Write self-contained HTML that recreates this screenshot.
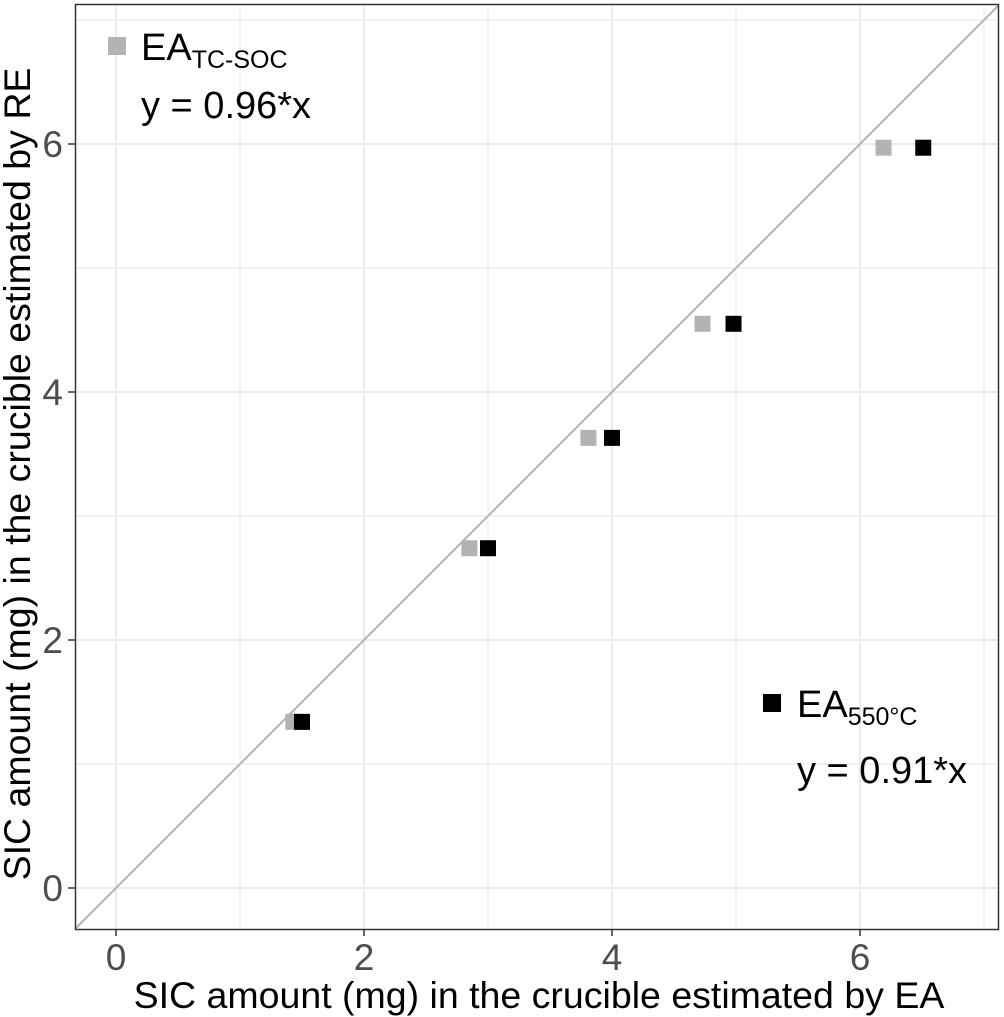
<!DOCTYPE html>
<html><head><meta charset="utf-8"><style>
body{margin:0;background:#fff;}
svg{display:block;font-family:"Liberation Sans",sans-serif;}
</style></head><body>
<svg width="1004" height="1017" viewBox="0 0 1004 1017">
<g id="grid"></g>
<line id="ref" stroke="#b3b3b3" stroke-width="2"/>
<g id="pts"></g>
<rect x="75.5" y="4.5" width="923" height="925" fill="none" stroke="#333" stroke-width="1.5"/>
<g id="ticks"></g>
<text x="539" y="1008" font-size="37.5" text-anchor="middle" fill="#000">SIC amount (mg) in the crucible estimated by EA</text>
<text transform="translate(30,474) rotate(-90)" font-size="37.5" text-anchor="middle" fill="#000">SIC amount (mg) in the crucible estimated by RE</text>
<rect x="108" y="37" width="18" height="18" fill="#b3b3b3"/>
<text x="141" y="60" font-size="38">EA<tspan font-size="25" dy="8">TC-SOC</tspan></text>
<text x="141" y="118" font-size="38">y = 0.96*x</text>
<rect x="763" y="694" width="18" height="18" fill="#000"/>
<text x="797" y="717" font-size="38">EA<tspan font-size="25" dy="8">550°C</tspan></text>
<text x="797" y="783" font-size="38">y = 0.91*x</text>
<script>
const yValues=[1.34,2.74,3.63,4.55,5.97];
const xTcSoc=[1.43,2.85,3.81,4.73,6.19];
const x550=[1.50,3.0,4.0,4.98,6.51];
const xTicks=[0,2,4,6];
const yTicks=[0,2,4,6];
const X=v=>116+v*124, Y=v=>888-v*124;
const NS="http://www.w3.org/2000/svg";
function mk(t,a,p){const e=document.createElementNS(NS,t);for(const k in a)e.setAttribute(k,a[k]);p.appendChild(e);return e;}
const g=document.getElementById('grid');
mk('rect',{x:75,y:4,width:923,height:925,fill:'#fff'},g);
for(let v=0;v<=7;v++){
 const major=v%2===0;
 const l1=mk('line',{x1:X(v),x2:X(v),y1:4,y2:929,stroke:'#ebebeb','stroke-width':major?2:1.2},g);
 
 
 const l2=mk('line',{y1:Y(v),y2:Y(v),x1:75,x2:998,stroke:'#ebebeb','stroke-width':major?2:1.2},g);
 
 
}
const r=document.getElementById('ref');
const lo=(75-116)/124, hi=(998-116)/124;
r.setAttribute('x1',X(lo));r.setAttribute('y1',Y(lo));r.setAttribute('x2',X(hi));r.setAttribute('y2',Y(hi));
const p=document.getElementById('pts');
yValues.forEach((y,i)=>{
 const a=mk('rect',{x:X(xTcSoc[i])-8,y:Y(y)-8,width:16,height:16,fill:'#b3b3b3'},p);
 
 
 const b=mk('rect',{x:X(x550[i])-8,y:Y(y)-8,width:16,height:16,fill:'#000'},p);
 
 
});
const t=document.getElementById('ticks');
xTicks.forEach(v=>{
 mk('line',{x1:X(v),x2:X(v),y1:929,y2:936,stroke:'#333','stroke-width':1.5},t);
 const e=mk('text',{x:X(v),y:970,'font-size':37,'text-anchor':'middle',fill:'#4d4d4d'},t);e.textContent=v;
 
 
});
yTicks.forEach(v=>{
 mk('line',{x1:68,x2:75,y1:Y(v),y2:Y(v),stroke:'#333','stroke-width':1.5},t);
 const e=mk('text',{x:63,y:Y(v)+13,'font-size':37,'text-anchor':'end',fill:'#4d4d4d'},t);e.textContent=v;
 
 
});
</script>
</svg>
</body></html>
